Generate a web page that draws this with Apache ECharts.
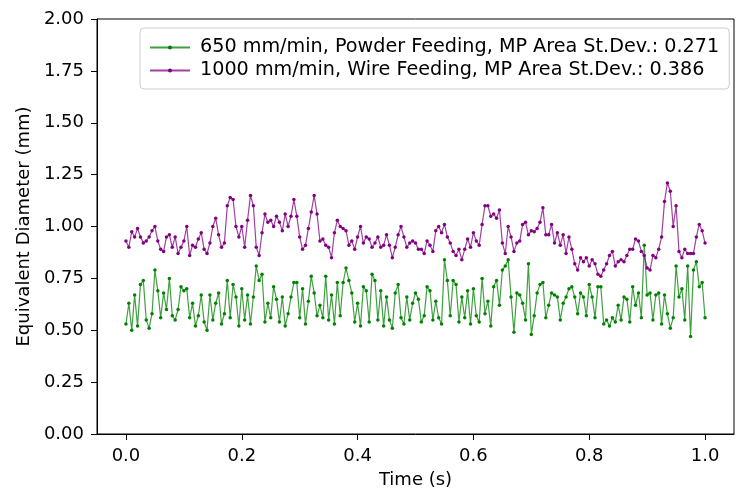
<!DOCTYPE html>
<html>
<head>
<meta charset="utf-8">
<script src="https://cdn.jsdelivr.net/npm/echarts@6/dist/echarts.min.js"></script>
<style>html,body{margin:0;padding:0;background:#fff}#c{width:736px;height:497px}</style>
</head>
<body>
<div id="c"></div>
<script>
// time axis samples (s)
const time = Array.from({length: 201}, (_, i) => +(i * 0.005).toFixed(3));

// 650 mm/min, Powder Feeding (mm)
const powder = [
0.53,0.63,0.50,0.67,0.52,0.72,0.74,0.55,0.51,0.58,
0.79,0.69,0.56,0.68,0.60,0.75,0.57,0.55,0.60,0.71,
0.69,0.70,0.56,0.63,0.52,0.57,0.67,0.54,0.50,0.67,
0.55,0.63,0.68,0.53,0.58,0.74,0.56,0.72,0.66,0.52,
0.70,0.55,0.67,0.53,0.66,0.81,0.74,0.77,0.54,0.63,
0.56,0.71,0.65,0.54,0.66,0.52,0.58,0.66,0.73,0.73,
0.56,0.70,0.53,0.64,0.76,0.68,0.57,0.62,
0.56,0.76,0.55,0.67,0.53,0.73,0.57,0.73,0.80,0.74,
0.68,0.54,0.63,0.52,0.71,0.69,0.54,0.77,0.74,0.55,
0.69,0.52,0.66,0.55,0.51,0.68,0.72,0.56,0.53,0.66,
0.55,0.63,0.68,0.65,0.54,0.57,0.71,0.69,0.55,0.64,
0.56,0.53,0.84,0.74,0.57,0.74,0.72,0.54,0.66,0.56,
0.69,0.53,0.70,0.57,0.54,0.75,0.58,0.64,0.52,0.71,
0.74,0.62,0.79,0.81,0.84,0.66,0.49,0.68,
0.67,0.63,0.55,0.82,0.48,0.57,0.68,0.72,0.73,0.56,
0.62,0.68,0.67,0.66,0.55,0.63,0.66,0.70,0.71,0.66,
0.58,0.68,0.66,0.57,0.72,0.66,0.56,0.71,0.71,0.53,
0.55,0.52,0.56,0.54,0.62,0.55,0.66,0.65,0.54,0.71,
0.62,0.68,0.56,0.91,0.67,0.68,0.55,0.67,0.68,0.53,
0.67,0.58,0.51,0.56,0.81,0.66,0.70,0.55,0.81,0.47,
0.79,0.83,0.71,0.73,0.56
];

// 1000 mm/min, Wire Feeding (mm)
const wire = [
0.93,0.90,0.975,0.95,0.99,0.95,0.92,0.93,0.95,0.98,
1.00,0.93,0.89,0.88,0.95,0.96,0.90,0.95,0.87,0.90,
0.93,1.00,0.86,0.91,0.90,0.94,0.97,0.89,0.87,0.92,
1.00,1.04,0.96,0.90,0.92,1.10,1.14,1.13,1.00,0.95,
1.00,0.90,1.03,1.15,1.10,0.90,0.86,0.97,1.06,1.02,
1.03,1.00,1.05,1.02,0.98,1.06,1.00,1.05,1.13,1.05,
0.95,0.89,0.91,0.99,1.07,1.15,1.06,0.93,
0.94,0.91,0.90,0.85,0.97,1.03,1.00,0.99,0.98,0.91,
0.93,0.89,0.95,1.00,0.92,0.95,0.94,0.90,0.92,0.95,
0.90,0.91,0.96,0.91,0.85,0.90,0.96,1.00,0.95,0.90,
0.92,0.93,0.92,0.89,0.89,0.87,0.93,0.91,0.88,0.98,
1.00,0.97,1.01,0.95,0.92,0.88,0.86,0.89,0.84,0.89,
0.94,0.90,0.97,0.93,0.91,1.01,1.10,1.10,1.05,1.06,
1.04,1.08,0.92,0.87,1.00,0.95,0.88,0.92,
0.93,1.01,1.02,0.96,0.98,0.975,0.99,1.02,1.09,0.96,
0.96,1.01,0.92,0.97,0.91,0.96,0.87,0.95,0.89,0.82,
0.79,0.85,0.83,0.85,0.81,0.84,0.82,0.77,0.76,0.79,
0.82,0.86,0.88,0.81,0.83,0.84,0.83,0.86,0.89,0.89,
0.94,0.93,0.88,0.86,0.80,0.79,0.86,0.85,0.89,0.95,
1.12,1.21,1.17,1.00,1.10,0.88,0.85,0.89,0.87,0.87,
0.87,0.95,1.01,0.98,0.92
];

const seriesNames = [
  '650 mm/min, Powder Feeding, MP Area St.Dev.: 0.271',
  '1000 mm/min, Wire Feeding, MP Area St.Dev.: 0.386'
];
const xTicks = [0, 0.2, 0.4, 0.6, 0.8, 1.0];

const FONT = 'DejaVu Sans';
const chart = echarts.init(document.getElementById('c'), null, {renderer: 'canvas'});

function mk(name, vals, color) {
  return {
    name: name,
    type: 'line',
    data: time.map((t, i) => [t, vals[i]]),
    symbol: 'circle',
    symbolSize: 3.5,
    showSymbol: true,
    itemStyle: {color: color},
    lineStyle: {color: color, width: 1.2, opacity: 0.75},
    emphasis: {disabled: true},
    animation: false
  };
}

chart.setOption({
  animation: false,
  textStyle: {fontFamily: FONT},
  grid: {left: 97, right: 2, top: 19, bottom: 63, show: true, borderColor: '#000', borderWidth: 1},
  legend: {
    orient: 'vertical',
    left: 140,
    top: 28,
    data: seriesNames,
    itemWidth: 40,
    itemHeight: 5,
    itemGap: 4,
    padding: [10, 10, 9, 9],
    backgroundColor: 'rgba(255,255,255,0.8)',
    borderColor: '#cccccc',
    borderWidth: 1,
    borderRadius: 4,
    textStyle: {fontFamily: FONT, fontSize: 19.2, color: '#000', padding: [0, 0, 0, 5]}
  },
  xAxis: {
    type: 'value',
    min: -0.05,
    max: 1.05,
    name: 'Time (s)',
    nameLocation: 'middle',
    nameGap: 37,
    nameTextStyle: {fontFamily: FONT, fontSize: 18, color: '#000'},
    axisLine: {show: true, onZero: false, lineStyle: {color: '#000', width: 1}},
    axisTick: {show: true, length: 6, lineStyle: {color: '#000'}, customValues: xTicks},
    axisLabel: {fontFamily: FONT, fontSize: 18, color: '#000', margin: 13, customValues: xTicks,
      formatter: v => v.toFixed(1)},
    splitLine: {show: false}
  },
  yAxis: {
    type: 'value',
    min: 0,
    max: 2,
    interval: 0.25,
    name: 'Equivalent Diameter (mm)',
    nameLocation: 'middle',
    nameGap: 61,
    nameTextStyle: {fontFamily: FONT, fontSize: 18, color: '#000'},
    axisLine: {show: true, onZero: false, lineStyle: {color: '#000', width: 1}},
    axisTick: {show: true, length: 6, lineStyle: {color: '#000'}},
    axisLabel: {fontFamily: FONT, fontSize: 18, color: '#000', margin: 13,
      formatter: v => v.toFixed(2)},
    splitLine: {show: false}
  },
  series: [mk(seriesNames[0], powder, '#008000'), mk(seriesNames[1], wire, '#800080')]
});
</script>
</body>
</html>
